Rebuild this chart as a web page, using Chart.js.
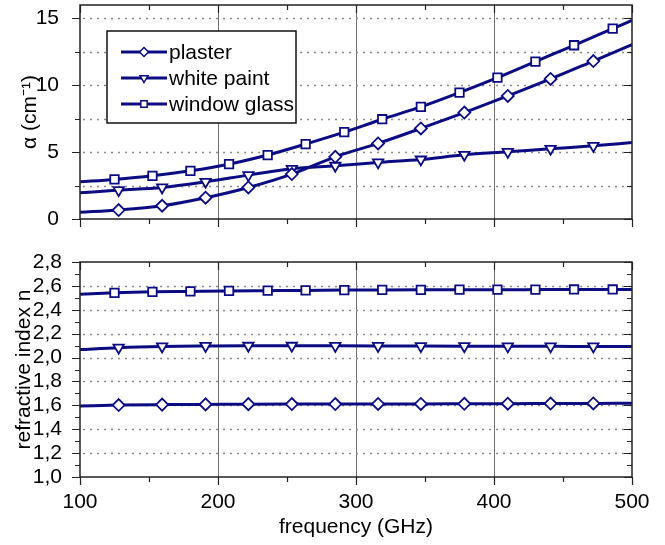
<!DOCTYPE html>
<html lang="en">
<head>
<meta charset="UTF-8">
<title>Absorption coefficient and refractive index</title>
<script src="https://cdn.jsdelivr.net/npm/chart.js"></script>
<style>
  body { margin: 0; background: #fff; }
  .wrap { position: absolute; left: 0; width: 665px; }
  #topWrap { top: 0; height: 240px; }
  #bottomWrap { top: 240px; height: 305px; }
</style>
</head>
<body>
<div class="wrap" id="topWrap"><canvas id="alphaChart"></canvas></div>
<div class="wrap" id="bottomWrap"><canvas id="indexChart"></canvas></div>

<script>
// frequencies (GHz) where values were read: line ends + marker positions
const freqA = [100, 128, 159.5, 191, 222, 253.5, 285, 316, 347, 378.5, 410, 441, 472, 500]; // plaster, white paint
const freqB = [100, 125, 152.5, 180, 208, 236, 263.5, 291.5, 319, 347, 375, 402.5, 430, 458, 486, 500]; // window glass

// absorption coefficient alpha (cm^-1)
const alphaPlaster = [0.5, 0.67, 0.99, 1.59, 2.36, 3.36, 4.65, 5.65, 6.77, 7.96, 9.2, 10.47, 11.81, 13.03];
const alphaPaint   = [1.96, 2.16, 2.36, 2.78, 3.28, 3.75, 3.98, 4.23, 4.45, 4.8, 5.02, 5.25, 5.47, 5.72];
const alphaGlass   = [2.78, 2.96, 3.23, 3.6, 4.1, 4.78, 5.6, 6.49, 7.46, 8.38, 9.45, 10.57, 11.77, 12.99, 14.23, 14.85];

// refractive index n
const nPlaster = [1.594, 1.602, 1.606, 1.608, 1.61, 1.611, 1.611, 1.612, 1.612, 1.613, 1.614, 1.615, 1.616, 1.617];
const nPaint   = [2.067, 2.083, 2.093, 2.097, 2.099, 2.099, 2.098, 2.097, 2.096, 2.095, 2.094, 2.094, 2.093, 2.093];
const nGlass   = [2.53, 2.542, 2.55, 2.554, 2.558, 2.56, 2.562, 2.565, 2.566, 2.567, 2.568, 2.568, 2.569, 2.57, 2.57, 2.57];

const labels = ["plaster", "white paint", "window glass"];

const NAVY = "#0c0c82";
const FONT = "'Liberation Sans', Arial, sans-serif";

function series(label, xs, ys, style, rot) {
  return {
    label: label,
    data: xs.map((x, i) => ({ x: x, y: ys[i] })),
    borderColor: NAVY,
    borderWidth: 3,
    backgroundColor: "#fff",
    pointStyle: style,
    pointRotation: rot,
    pointRadius: c => (c.dataIndex === 0 || c.dataIndex === xs.length - 1) ? 0 : 6,
    pointHoverRadius: 6,
    pointBorderWidth: 1.8,
    pointBorderColor: NAVY,
    pointBackgroundColor: "#fff",
    cubicInterpolationMode: "monotone"
  };
}

function isMult(v, step) {
  const r = v / step;
  return Math.abs(r - Math.round(r)) < 1e-6;
}

// dotted horizontal grid
const dotGrid = {
  id: "dotGrid",
  beforeDatasetsDraw(chart, args, o) {
    const { ctx, chartArea: a, scales: { y } } = chart;
    ctx.save();
    ctx.strokeStyle = "#8a8a8a";
    ctx.lineWidth = 1.3;
    ctx.setLineDash([2, 5]);
    ctx.beginPath();
    for (let i = 1; y.min + i * o.step < y.max - 1e-6; i++) {
      const py = Math.round(y.getPixelForValue(y.min + i * o.step)) + 0.5;
      ctx.moveTo(a.left + 3, py);
      ctx.lineTo(a.right, py);
    }
    ctx.stroke();
    ctx.restore();
  }
};

// plot frame + small tick marks (outward left/bottom, inward right/top)
const frameTicks = {
  id: "frameTicks",
  afterDatasetsDraw(chart, args, o) {
    const { ctx, chartArea: a, scales: { x, y } } = chart;
    ctx.save();
    ctx.strokeStyle = "#222";
    ctx.lineWidth = 1.2;
    ctx.beginPath();
    for (let v = x.min; v <= x.max + 1e-9; v += o.xMinor) {
      const px = Math.round(x.getPixelForValue(v)) + 0.5;
      const len = isMult(v, o.xMajor) ? 8 : 5;
      ctx.moveTo(px, a.bottom); ctx.lineTo(px, a.bottom + len);
      ctx.moveTo(px, a.top); ctx.lineTo(px, a.top + len);
    }
    for (let i = 0; y.min + i * o.yMinor <= y.max + 1e-9; i++) {
      const v = y.min + i * o.yMinor;
      const py = Math.round(y.getPixelForValue(v)) + 0.5;
      const len = isMult(v - y.min, o.yMajor) ? 8 : 5;
      ctx.moveTo(a.left, py); ctx.lineTo(a.left - len, py);
      ctx.moveTo(a.right, py); ctx.lineTo(a.right - len, py);
    }
    ctx.stroke();
    ctx.lineWidth = 1.5;
    ctx.strokeRect(a.left, a.top, a.right - a.left, a.bottom - a.top);
    ctx.restore();
  }
};

// boxed legend inside the upper plot
const legendBox = {
  id: "legendBox",
  afterDraw(chart) {
    const { ctx, chartArea: a } = chart;
    const bx = a.left + 27, by = a.top + 26, bw = 189, bh = 92;
    ctx.save();
    ctx.fillStyle = "#fff";
    ctx.fillRect(bx, by, bw, bh);
    ctx.strokeStyle = "#111";
    ctx.lineWidth = 1.5;
    ctx.strokeRect(bx, by, bw, bh);
    chart.data.datasets.forEach((ds, i) => {
      const yy = by + 21 + i * 26;
      ctx.strokeStyle = NAVY;
      ctx.lineWidth = 3;
      ctx.beginPath();
      ctx.moveTo(bx + 14, yy);
      ctx.lineTo(bx + 60, yy);
      ctx.stroke();
      ctx.fillStyle = "#fff";
      ctx.lineWidth = 1.5;
      Chart.helpers.drawPoint(ctx, { pointStyle: ds.pointStyle, rotation: ds.pointRotation, radius: 4.5, borderWidth: 1.5 }, bx + 37, yy);
      ctx.fillStyle = "#000";
      ctx.font = "21px " + FONT;
      ctx.textBaseline = "middle";
      ctx.fillText(ds.label, bx + 62, yy + 1);
    });
    ctx.restore();
  }
};

const xGrid = {
  color: c => (c.tick && isMult(c.tick.value, 100) && c.tick.value > 100 && c.tick.value < 500) ? "#6f6f6f" : "rgba(0,0,0,0)",
  lineWidth: 1,
  drawTicks: false
};

function fitY(s) { s.width = 80; s.paddingTop = 0; s.paddingBottom = 0; }

Chart.defaults.font.family = FONT;
Chart.defaults.color = "#000";

new Chart(document.getElementById("alphaChart"), {
  type: "line",
  data: {
    datasets: [
      series(labels[0], freqA, alphaPlaster, "rectRot", 0),
      series(labels[1], freqA, alphaPaint, "triangle", 180),
      series(labels[2], freqB, alphaGlass, "rect", 0)
    ]
  },
  options: {
    responsive: true,
    maintainAspectRatio: false,
    animation: false,
    layout: { padding: { left: 0, right: 33, top: 5, bottom: 0 } },
    plugins: {
      legend: { display: false },
      tooltip: { enabled: false },
      dotGrid: { step: 2.5 },
      frameTicks: { xMinor: 50, xMajor: 100, yMinor: 2.5, yMajor: 5 }
    },
    scales: {
      x: {
        type: "linear", min: 100, max: 500,
        ticks: { stepSize: 50, display: false },
        grid: xGrid,
        border: { display: false },
        afterFit: s => { s.height = 21; s.paddingLeft = 0; s.paddingRight = 0; }
      },
      y: {
        min: 0, max: 16,
        ticks: {
          stepSize: 2.5, includeBounds: false, padding: 13, font: { size: 21 }, color: "#000", autoSkip: false,
          callback: v => isMult(v, 5) ? v : ""
        },
        grid: { display: false },
        border: { display: false },
        title: { display: true, text: "α (cm⁻¹)", font: { size: 21 }, color: "#000", padding: { top: 18, bottom: 0 } },
        afterFit: fitY
      }
    }
  },
  plugins: [dotGrid, frameTicks, legendBox]
});

new Chart(document.getElementById("indexChart"), {
  type: "line",
  data: {
    datasets: [
      series(labels[0], freqA, nPlaster, "rectRot", 0),
      series(labels[1], freqA, nPaint, "triangle", 180),
      series(labels[2], freqB, nGlass, "rect", 0)
    ]
  },
  options: {
    responsive: true,
    maintainAspectRatio: false,
    animation: false,
    layout: { padding: { left: 0, right: 33, top: 22, bottom: 0 } },
    plugins: {
      legend: { display: false },
      tooltip: { enabled: false },
      dotGrid: { step: 0.2 },
      frameTicks: { xMinor: 50, xMajor: 100, yMinor: 0.1, yMajor: 0.2 }
    },
    scales: {
      x: {
        type: "linear", min: 100, max: 500,
        ticks: {
          stepSize: 50, padding: 13, font: { size: 21 }, color: "#000",
          maxRotation: 0, autoSkip: false,
          callback: v => isMult(v, 100) ? v : ""
        },
        grid: xGrid,
        border: { display: false },
        title: { display: true, text: "frequency (GHz)", font: { size: 21 }, color: "#000", padding: { top: 0, bottom: 5 } },
        afterFit: s => { s.height = 68; s.paddingLeft = 0; s.paddingRight = 0; }
      },
      y: {
        min: 1.0, max: 2.8,
        ticks: {
          stepSize: 0.2, padding: 10, font: { size: 21 }, color: "#000", autoSkip: false,
          callback: v => v.toFixed(1).replace(".", ",")
        },
        grid: { display: false },
        border: { display: false },
        title: { display: true, text: "refractive index n", font: { size: 21 }, color: "#000", padding: { top: 12, bottom: 0 } },
        afterFit: fitY
      }
    }
  },
  plugins: [dotGrid, frameTicks]
});
</script>
</body>
</html>
